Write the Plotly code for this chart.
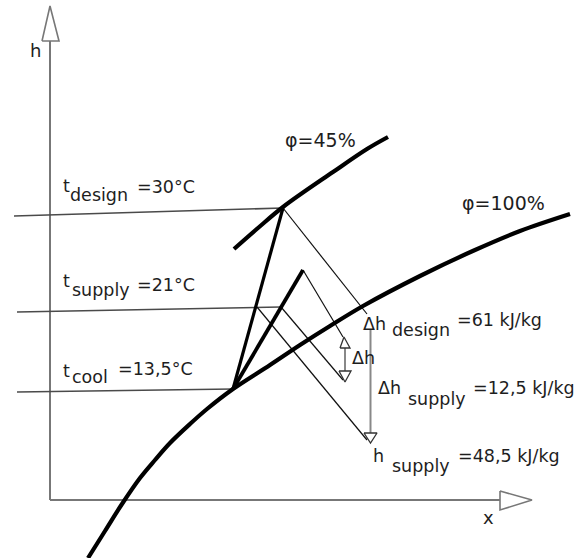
import plotly.graph_objects as go

# ---------------------------------------------------------------
# h-x diagram (schematic), diagram units: x to the right, h upward,
# origin at the corner of the two axes
# ---------------------------------------------------------------

# relative humidity curves
phi100_x = [38, 55, 72, 90, 105, 120, 140, 157, 183, 220, 250, 280, 313, 370, 425, 470, 520]
phi100_h = [-58, -31, -4, 22, 40, 57, 76, 91, 111, 135, 155, 174, 194, 224, 250, 269, 286]
phi45_x = [184, 208, 233, 283, 317, 338]
phi45_h = [251, 272, 293, 328, 351, 363]
phi_labels = ["φ=45%", "φ=100%"]

# state points of the air-handling process
state_names = ["design", "supply", "cool", "mix", "process"]
state_x = [233, 231, 183, 253, 207]
state_h = [292, 193, 111, 230, 193]

# temperatures (°C) and enthalpies (kJ/kg)
temp_names = ["design", "supply", "cool"]
temp_values = [30, 21, 13.5]
temp_line_start_x = [-36, -33, -33]
temp_line_start_h = [284, 188, 108]

h_design = 61.0
h_supply = 48.5
dh_supply = h_design - h_supply  # 12.5

# enthalpy lines: end points of the thin diagonal lines
enth_from = ["design", "mix", "supply", "process"]
enth_end_x = [317, 293, 293, 317]
enth_end_h = [186, 163, 120, 60]

# ---------------------------------------------------------------
P = dict(zip(state_names, zip(state_x, state_h)))

BAR_X = 320.5          # vertical Δh_supply marker
BAR_TOP = 170          # level of h_design on the marker
H_PER_KJ = 103 / 12.5  # drawing units per kJ/kg on the marker


def h_to_v(h):
    return BAR_TOP + (h - h_design) * H_PER_KJ


fig = go.Figure()


def line(xs, hs, width, color, shape="linear"):
    fig.add_trace(go.Scatter(
        x=xs, y=hs, mode="lines",
        line=dict(width=width, color=color, shape=shape, smoothing=1.0),
        hoverinfo="skip", showlegend=False))


def triangle(xs, hs, color, width=1.4):
    fig.add_trace(go.Scatter(
        x=xs + [xs[0]], y=hs + [hs[0]], mode="lines", fill="toself",
        fillcolor="white", line=dict(width=width, color=color),
        hoverinfo="skip", showlegend=False))


AX = "#777777"
# axes with hollow arrow heads
line([0, 0], [0, 459], 2.0, AX)
line([0, 450], [0, 0], 2.0, AX)
triangle([-8, 0, 9], [459, 494, 459], AX, 1.6)
triangle([450, 482, 450], [9, 0, -10], AX, 1.6)

# temperature lines
for name, sx, sh in zip(temp_names, temp_line_start_x, temp_line_start_h):
    ex, eh = P[name]
    line([sx, ex], [sh, eh], 1.6, "#4a4a4a")

# enthalpy lines
for name, ex, eh in zip(enth_from, enth_end_x, enth_end_h):
    sx, sh = P[name]
    line([sx, ex], [sh, eh], 1.2, "#111111")

# relative humidity curves
line(phi100_x, phi100_h, 4.2, "black", "spline")
line(phi45_x, phi45_h, 4.2, "black", "spline")

# process lines from the cooling point
cx, ch = P["cool"]
line([cx, P["design"][0]], [ch, P["design"][1]], 3.2, "black")
line([cx, P["mix"][0]], [ch, P["mix"][1]], 3.8, "black")

# Δh_supply marker (between h_design and h_supply)
top_v, bot_v = h_to_v(h_design), h_to_v(h_supply)
line([BAR_X, BAR_X], [top_v, bot_v], 2.0, "#888888")
triangle([BAR_X - 6.5, BAR_X + 6.5, BAR_X], [bot_v, bot_v, bot_v - 10], "#333333", 1.3)

# small Δh marker
SX = 295
line([SX, SX], [152, 129], 2.0, "#888888")
triangle([SX - 5, SX + 5, SX - 1], [152, 152, 163], "#333333", 1.3)
triangle([SX - 6, SX + 6, SX], [129, 129, 118], "#333333", 1.3)

# ---------------------------------------------------------------
FONT = "DejaVu Sans"
TXT = "#1e1e1e"


def label(text, x, baseline, size=17.5):
    fig.add_annotation(
        x=x, y=baseline + 0.346 * size, text=text, showarrow=False,
        xanchor="left", yanchor="middle", borderpad=0, borderwidth=0,
        font=dict(family=FONT, size=size, color=TXT))


def num(v):
    return f"{v:g}".replace(".", ",")


label("h", -20, 443, 18)
label("x", 433, -24, 18)

t_pos = {"design": (13, 308, 20, 299, 87, 307),
         "supply": (13, 213, 22, 204, 87, 209),
         "cool": (13, 123, 22, 117, 68, 125)}
for name, val in zip(temp_names, temp_values):
    tx, tb, sx, sb, vx, vb = t_pos[name]
    label("t", tx, tb)
    label(name, sx, sb)
    label(f"={num(val)}°C", vx, vb)

label(phi_labels[0], 235, 353, 19)
label(phi_labels[1], 412, 290, 19)

label("Δh", 313, 170)
label("design", 342, 164)
label(f"={num(h_design)} kJ/kg", 407, 174)

label("Δh", 302, 136)

label("Δh", 328, 106)
label("supply", 358, 95)
label(f"={num(dh_supply)} kJ/kg", 423, 106)

label("h", 323, 38)
label("supply", 342, 28)
label(f"={num(h_supply)} kJ/kg", 408, 38)

fig.update_layout(
    width=587, height=558, margin=dict(l=0, r=0, t=0, b=0),
    paper_bgcolor="white", plot_bgcolor="white", showlegend=False,
    xaxis=dict(range=[-50, 537], visible=False, fixedrange=True),
    yaxis=dict(range=[-58, 500], visible=False, fixedrange=True),
)

fig.write_html("out.html")
